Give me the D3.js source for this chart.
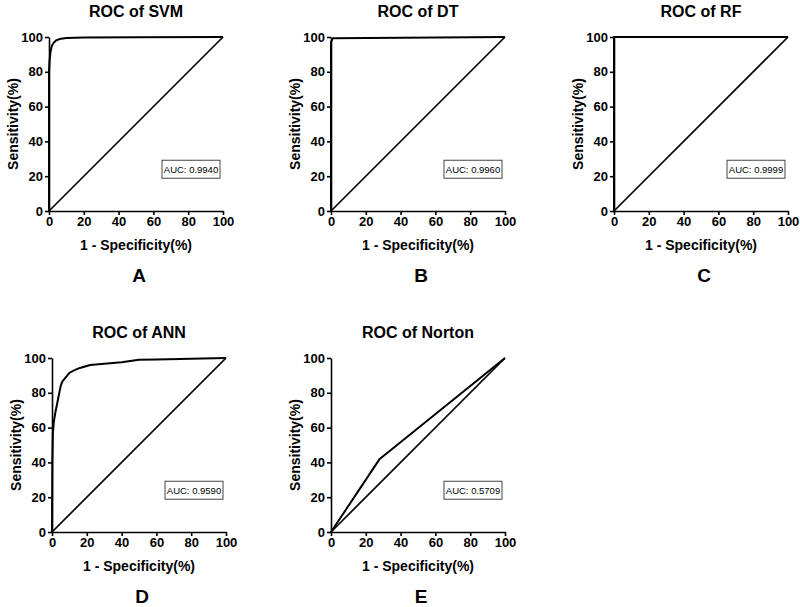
<!DOCTYPE html>
<html>
<head>
<meta charset="utf-8">
<script src="https://cdn.jsdelivr.net/npm/d3@7"></script>
<style>
  body { margin: 0; background: #fff; }
  svg text { font-family: Arial, 'Liberation Sans', sans-serif; fill: #000; }
  .tick text { font-size: 13px; font-weight: bold; }
  .domain, .tick line { stroke: #000; stroke-width: 1.6px; }
</style>
</head>
<body>
<div id="chart"></div>
<script>
// panel labels
const titles = ['ROC of SVM', 'ROC of DT', 'ROC of RF', 'ROC of ANN', 'ROC of Norton']
const letters = ['A', 'B', 'C', 'D', 'E']
const aucs = ['0.9940', '0.9960', '0.9999', '0.9590', '0.5709']
const ticks = [0, 20, 40, 60, 80, 100]

// ROC curves: 1 - specificity (%) and sensitivity (%)
const svmFpr = [0, 0, 0.3, 0.8, 1.5, 2.5, 4, 6, 10, 20, 50, 100]
const svmTpr = [0, 80, 86, 91, 94.5, 96.5, 98, 98.8, 99.4, 99.7, 99.9, 100]

const dtFpr = [0, 0, 1, 100]
const dtTpr = [0, 97, 99.3, 100]

const rfFpr = [0, 0, 100]
const rfTpr = [0, 100, 100]

const annFpr = [0, 0.2, 0.5, 1, 2, 3, 4, 5, 6, 8, 10, 13, 16, 22, 30, 40, 50, 60, 100]
const annTpr = [0, 40, 57, 63, 69, 74, 79, 84, 86.5, 89, 91.5, 93, 94.3, 96, 96.7, 97.5, 99, 99.2, 100]

const nortonFpr = [0, 28, 100]
const nortonTpr = [0, 42, 100]

const curves = [
  [svmFpr, svmTpr], [dtFpr, dtTpr], [rfFpr, rfTpr], [annFpr, annTpr], [nortonFpr, nortonTpr]
]

const width = 800
const height = 607
const size = 174
const origins = [[49, 37], [331, 37], [614, 37], [52, 358], [331, 358]]

const svg = d3.select('#chart')
  .append('svg')
  .attr('width', width)
  .attr('height', height)

const x = d3.scaleLinear().domain([0, 100]).range([0, size])
const y = d3.scaleLinear().domain([0, 100]).range([size, 0])

const line = d3.line()
  .x(d => x(d[0]))
  .y(d => y(d[1]))

titles.forEach((title, i) => {
  const g = svg.append('g')
    .attr('transform', `translate(${origins[i][0]}, ${origins[i][1]})`)

  // reference diagonal
  g.append('path')
    .datum([[0, 0], [100, 100]])
    .attr('d', line)
    .attr('fill', 'none')
    .attr('stroke', '#000')
    .attr('stroke-width', 1.7)

  // ROC curve
  const [fpr, tpr] = curves[i]
  g.append('path')
    .datum(fpr.map((v, k) => [v, tpr[k]]))
    .attr('d', line)
    .attr('fill', 'none')
    .attr('stroke', '#000')
    .attr('stroke-width', 2)
    .attr('stroke-linejoin', 'round')

  // ── AXES ──────────────────────────────────────────────
  g.append('g')
    .attr('transform', `translate(0, ${size})`)
    .call(d3.axisBottom(x).tickValues(ticks).tickSize(4).tickSizeOuter(0).tickPadding(2))

  g.append('g')
    .call(d3.axisLeft(y).tickValues(ticks).tickSize(4).tickSizeOuter(0).tickPadding(2))

  g.selectAll('.tick text').attr('font-size', null).attr('font-family', null)

  g.append('text')
    .attr('x', size / 2)
    .attr('y', size + 39)
    .attr('text-anchor', 'middle')
    .style('font-size', '14px')
    .style('font-weight', 'bold')
    .text('1 - Specificity(%)')

  g.append('text')
    .attr('transform', `translate(-36, ${size / 2}) rotate(-90)`)
    .attr('text-anchor', 'middle')
    .attr('dy', '0.35em')
    .style('font-size', '14px')
    .style('font-weight', 'bold')
    .text('Sensitivity(%)')

  // ── TITLE & LETTER ────────────────────────────────────
  g.append('text')
    .attr('x', size / 2)
    .attr('y', -20)
    .attr('text-anchor', 'middle')
    .style('font-size', '16px')
    .style('font-weight', 'bold')
    .text(title)

  g.append('text')
    .attr('x', size / 2 + 3)
    .attr('y', size + 71)
    .attr('text-anchor', 'middle')
    .style('font-size', '19px')
    .style('font-weight', 'bold')
    .text(letters[i])

  // ── AUC BOX ──────────────────────────────────────────
  const boxW = 58
  const boxH = 18
  const boxX = size - 3 - boxW
  const boxY = y(24) - boxH / 2
  g.append('rect')
    .attr('x', boxX)
    .attr('y', boxY)
    .attr('width', boxW)
    .attr('height', boxH)
    .attr('fill', '#fff')
    .attr('stroke', '#444')
    .attr('stroke-width', 1)

  g.append('text')
    .attr('x', boxX + boxW / 2)
    .attr('y', boxY + boxH / 2)
    .attr('dy', '0.35em')
    .attr('text-anchor', 'middle')
    .style('font-size', '9.5px')
    .text(`AUC: ${aucs[i]}`)
})
</script>
</body>
</html>
